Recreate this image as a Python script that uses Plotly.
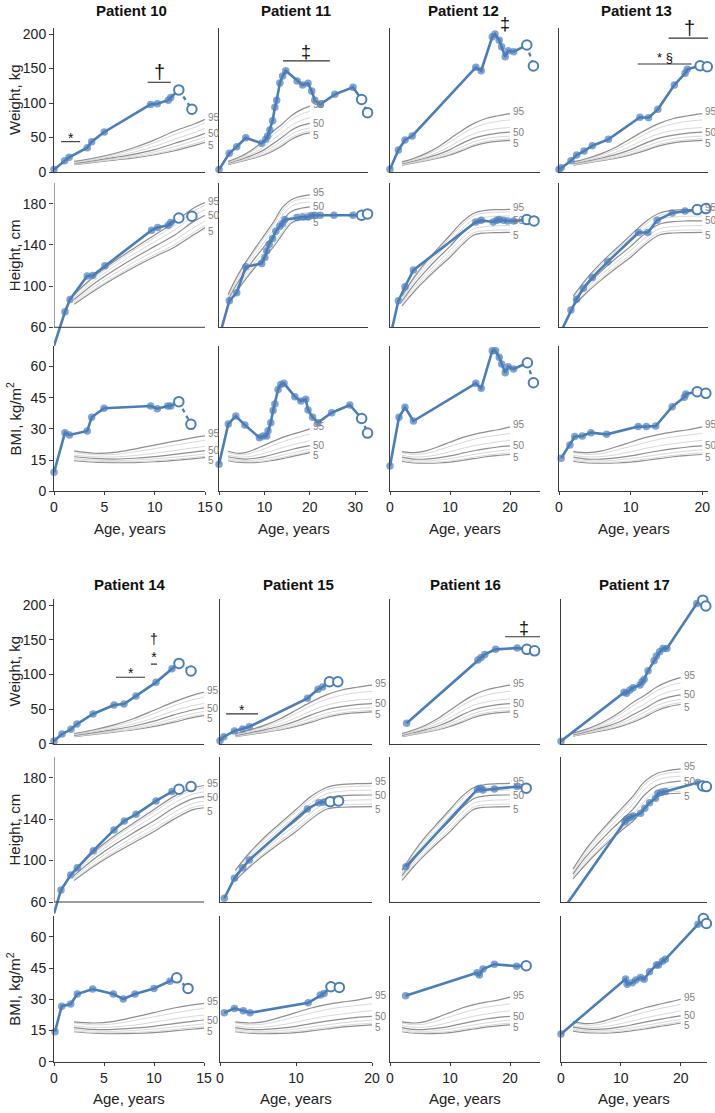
import plotly.graph_objects as go
import numpy as np

BLUE = '#4a7ebb'
AXIS = '#3c3c3c'
FONT = 'Liberation Sans, Arial, Helvetica, sans-serif'
FIG_W, FIG_H = 715, 1113

# reference percentiles (CDC growth charts), ages 2-20 years
REF_AGE = [2, 4, 6, 8, 10, 12, 14, 16, 18, 20]
PCT = [5, 10, 25, 50, 75, 90, 95]
LABELLED = [5, 50, 95]

BOY_WT = [
    [10.6, 13.9, 17.3, 20.6, 25.0, 30.8, 38.5, 47.5, 53.5, 56.6],
    [11.0, 14.5, 18.1, 21.7, 26.5, 33.0, 41.2, 50.3, 56.2, 59.3],
    [11.8, 15.4, 19.5, 23.6, 29.2, 36.8, 45.7, 55.0, 60.8, 63.9],
    [12.7, 16.6, 21.1, 26.0, 32.4, 41.6, 50.8, 60.9, 67.2, 70.6],
    [13.6, 17.8, 23.0, 29.0, 37.0, 47.5, 57.5, 68.0, 74.8, 78.5],
    [14.7, 19.2, 25.2, 32.7, 42.6, 54.5, 65.0, 76.3, 83.5, 88.0],
    [15.3, 20.3, 26.8, 35.5, 46.5, 59.5, 70.0, 82.0, 90.0, 95.5],
]
GIRL_WT = [
    [10.0, 13.3, 16.5, 20.0, 24.8, 31.0, 37.8, 42.3, 44.5, 45.8],
    [10.4, 13.8, 17.2, 21.0, 26.3, 33.0, 40.0, 44.5, 46.8, 48.0],
    [11.1, 14.8, 18.6, 22.8, 29.0, 36.5, 43.8, 48.5, 50.8, 52.0],
    [12.0, 16.0, 20.3, 25.5, 32.5, 41.5, 49.0, 53.5, 56.3, 57.8],
    [12.9, 17.3, 22.4, 28.8, 37.2, 47.5, 55.5, 60.3, 63.0, 64.5],
    [13.9, 18.9, 25.0, 33.0, 43.5, 55.0, 64.0, 70.0, 73.5, 75.5],
    [14.6, 20.0, 27.0, 36.3, 48.2, 60.3, 70.5, 77.5, 81.5, 84.5],
]
BOY_HT = [
    [82.4, 95.5, 107.5, 118.5, 128.5, 138.0, 150.5, 161.5, 164.5, 165.0],
    [83.5, 97.0, 109.0, 120.5, 130.5, 140.3, 153.0, 163.5, 166.5, 167.0],
    [85.0, 99.5, 112.0, 123.5, 134.0, 144.5, 157.5, 167.5, 170.5, 171.5],
    [86.9, 102.5, 115.5, 127.5, 138.5, 149.5, 163.5, 172.5, 175.5, 176.8],
    [88.8, 105.5, 119.0, 131.5, 143.0, 154.5, 169.0, 177.5, 180.5, 181.5],
    [90.7, 108.0, 122.0, 135.0, 147.0, 159.0, 173.5, 181.5, 184.5, 185.5],
    [91.9, 109.5, 124.0, 137.0, 149.5, 162.0, 176.5, 184.0, 187.0, 188.5],
]
GIRL_HT = [
    [80.8, 94.5, 106.5, 117.5, 128.0, 140.0, 149.5, 151.5, 151.8, 152.0],
    [82.0, 96.0, 108.5, 119.8, 130.5, 142.5, 151.8, 153.8, 154.3, 154.5],
    [83.8, 98.7, 111.5, 123.3, 134.5, 146.5, 155.6, 157.8, 158.5, 158.7],
    [85.5, 101.5, 115.0, 127.2, 138.5, 151.0, 160.0, 162.5, 163.2, 163.3],
    [87.5, 104.5, 118.5, 131.0, 143.0, 155.5, 164.5, 167.0, 167.8, 168.0],
    [89.3, 107.0, 121.5, 134.5, 147.0, 159.5, 168.3, 171.0, 171.7, 172.0],
    [90.5, 108.5, 123.5, 136.5, 149.3, 162.0, 170.6, 173.5, 174.2, 174.5],
]
BOY_BMI = [
    [14.7, 14.0, 13.8, 13.8, 14.2, 14.9, 15.7, 16.7, 17.6, 18.6],
    [15.1, 14.4, 14.2, 14.2, 14.7, 15.4, 16.3, 17.3, 18.2, 19.2],
    [15.8, 15.0, 14.8, 15.0, 15.6, 16.4, 17.4, 18.4, 19.4, 20.3],
    [16.6, 15.8, 15.5, 15.9, 16.7, 17.8, 19.0, 20.1, 21.1, 22.0],
    [17.4, 16.6, 16.5, 17.2, 18.3, 19.6, 21.0, 22.2, 23.3, 24.4],
    [18.6, 17.6, 17.7, 19.0, 20.5, 22.2, 23.8, 25.2, 26.4, 27.6],
    [19.4, 18.3, 18.7, 20.3, 22.2, 24.1, 25.9, 27.3, 28.6, 30.0],
]
GIRL_BMI = [
    [14.4, 13.7, 13.5, 13.6, 14.0, 14.8, 15.7, 16.6, 17.2, 17.7],
    [14.8, 14.0, 13.9, 14.1, 14.6, 15.5, 16.4, 17.3, 18.0, 18.5],
    [15.5, 14.7, 14.6, 15.0, 15.7, 16.7, 17.7, 18.6, 19.4, 20.0],
    [16.4, 15.5, 15.5, 16.1, 17.0, 18.3, 19.5, 20.5, 21.3, 21.8],
    [17.3, 16.5, 16.7, 17.6, 19.0, 20.6, 21.9, 22.9, 23.8, 24.5],
    [18.6, 17.7, 18.2, 19.8, 21.6, 23.4, 25.0, 26.2, 27.0, 27.8],
    [19.1, 18.6, 19.4, 21.4, 23.6, 25.8, 27.4, 28.6, 29.6, 31.0],
]

PATIENTS = [10, 11, 12, 13, 14, 15, 16, 17]
SEX = ['M', 'M', 'F', 'F', 'F', 'F', 'F', 'M']
AGE_MAX = [15, 32.8, 25, 20.8, 15, 20, 25, 24.4]
AGE_TICKS = [[0, 5, 10, 15], [0, 10, 20, 30], [0, 10, 20], [0, 10, 20],
             [0, 5, 10, 15], [0, 10, 20], [0, 10, 20], [0, 10, 20]]
ROW_TITLES = ['Weight, kg', 'Height, cm', 'BMI, kg/m<sup>2</sup>']
ROW_TICKS = [[0, 50, 100, 150, 200], [60, 100, 140, 180], [0, 15, 30, 45, 60]]

# patient measurements (last points of each series are the open markers)
P10_WT_AGE = [0, 1.06, 1.5, 3.3, 3.74, 5.0, 9.6, 10.26, 11.35, 11.6, 12.4, 13.7]
P10_WT = [3.5, 16.4, 21.3, 35.2, 44, 58, 98, 99, 104, 108, 119, 91]
P10_HT_AGE = [0, 1.09, 1.59, 3.3, 3.84, 5.06, 9.7, 10.3, 11.35, 11.6, 12.4, 13.7]
P10_HT = [42, 75, 87, 109.7, 110.3, 119.6, 154.2, 156.8, 159, 161.6, 166, 167.7]
P10_BMI_AGE = [0, 1.09, 1.53, 3.3, 3.74, 4.97, 9.6, 10.26, 11.3, 11.6, 12.4, 13.6]
P10_BMI = [9.1, 28.2, 27.1, 29.0, 35.6, 39.9, 41, 39.7, 41, 41, 43.1, 32.2]

P11_WT_AGE = [0, 2.27, 3.9, 5.9, 9.4, 10.3, 10.7, 11.2, 11.8, 12.3, 12.7, 13.4, 14.0, 14.7,
              17.2, 18.4, 19.6, 20.4, 21.1, 22.3, 25.5, 29.5, 31.4, 32.7]
P11_WT = [3.5, 27, 36.7, 49.7, 41.5, 47.3, 52, 60.9, 74.4, 93.7, 104, 129, 139, 146.8,
          131.9, 126, 128.5, 117.4, 104, 98, 112.6, 122.7, 105, 86]
P11_HT_AGE = [0, 2.27, 3.9, 5.9, 9.4, 10.1, 10.5, 11.05, 11.8, 12.5, 13.4, 14.0, 14.5, 17.2,
              18.5, 19.6, 20.4, 21.1, 22.3, 25.3, 29.5, 31.4, 32.7]
P11_HT = [50, 85.7, 93.5, 118.7, 122, 127.8, 134.2, 140.6, 146.2, 153.2, 158, 160.7, 164.5, 166.5,
          167, 167, 168.4, 168.7, 168.7, 168.7, 168.7, 168.7, 170]
P11_BMI_AGE = [0, 2.05, 3.7, 5.7, 8.9, 9.7, 10.5, 10.8, 11.4, 11.9, 12.3, 13.0, 13.6, 14.3,
               16.7, 18.0, 19.1, 19.6, 20.6, 21.8, 24.8, 28.8, 31.4, 32.7]
P11_BMI = [13, 32.4, 36.2, 31.9, 25.8, 26.6, 26.6, 29.1, 33, 38.8, 42, 49, 51.4, 51.9,
           45.5, 43.4, 44.2, 39.1, 35.6, 33, 37.8, 41.5, 35, 28]

P12_WT_AGE = [0, 1.4, 2.5, 3.7, 14.3, 15.2, 17.05, 17.5, 18.2, 18.6, 19.2, 19.7, 20.6, 22.8, 23.9]
P12_WT = [4, 31.9, 46.4, 52.2, 151.7, 146.8, 196, 200, 191, 181.6, 167, 175.8, 174.4, 184, 153.6]
P12_HT_AGE = [0, 1.4, 2.5, 3.9, 14.3, 15.2, 17.2, 17.8, 18.2, 18.9, 19.6, 20.6, 22.8, 24]
P12_HT = [50, 85.7, 99.3, 115.5, 162.2, 163.9, 162.2, 163.9, 164.6, 163.9, 163.2, 163.2, 164.5, 163.2]
P12_BMI_AGE = [0, 1.5, 2.5, 3.9, 14.3, 15.2, 17.05, 17.6, 18.2, 18.6, 19.2, 19.7, 20.6, 22.9, 23.9]
P12_BMI = [12.2, 35.6, 40.4, 33.8, 51.9, 49.5, 67.6, 67.6, 64.4, 61.2, 57, 59.9, 58.8, 61.8, 52.2]

P13_WT_AGE = [0, 0.3, 1.67, 2.46, 3.5, 4.65, 6.9, 11.3, 12.5, 13.8, 16.1, 17.6, 17.9, 19.7, 20.7]
P13_WT = [3.5, 6, 16.4, 24.6, 30.4, 38.1, 47.3, 79.3, 78.7, 90.8, 126, 143, 148.8, 154, 152.6]
P13_HT_AGE = [0, 1.67, 2.46, 3.4, 4.65, 6.8, 11.1, 12.4, 13.7, 15.8, 17.6, 19.3, 20.5]
P13_HT = [52, 76.7, 87.1, 97.8, 108.4, 123.5, 152, 152, 163.9, 171, 172.9, 174.2, 175.2]
P13_BMI_AGE = [0.3, 1.53, 2.2, 3.25, 4.46, 6.65, 11.06, 12.2, 13.5, 15.8, 17.5, 17.7, 19.3, 20.5]
P13_BMI = [15.9, 22.3, 26.3, 26.6, 28.2, 27.4, 31.1, 31.1, 31.4, 40.7, 45.2, 46.8, 47.9, 47.1]

P14_WT_AGE = [0, 0.8, 1.7, 2.3, 3.9, 6.0, 7.0, 8.2, 10.2, 11.8, 12.5, 13.7]
P14_WT = [3.8, 13.9, 20.7, 28.3, 42.8, 55.8, 57.2, 68.8, 88.6, 108.3, 116, 105]
P14_HT_AGE = [0, 0.7, 1.67, 2.33, 3.93, 6.0, 7.03, 8.2, 10.2, 11.8, 12.5, 13.7]
P14_HT = [49, 71.6, 86, 93.1, 109.6, 129.6, 138.3, 144.7, 157.6, 166.6, 168.9, 171.4]
P14_BMI_AGE = [0.1, 0.77, 1.67, 2.33, 3.87, 5.93, 6.93, 8.1, 10.0, 11.6, 12.27, 13.4]
P14_BMI = [14.4, 26.7, 27.7, 32.5, 34.9, 32.5, 30.1, 32.5, 35.2, 38.7, 40.3, 35.2]

P15_WT_AGE = [0, 0.5, 1.9, 2.98, 3.86, 11.5, 12.9, 13.5, 14.4, 15.5]
P15_WT = [4, 10, 18.2, 21.1, 24.4, 65.5, 78.5, 81.8, 89.5, 89.5]
P15_HT_AGE = [0.57, 1.9, 2.99, 3.86, 11.5, 13.0, 13.6, 14.5, 15.6]
P15_HT = [63.6, 82.9, 93.1, 100.6, 149.9, 155.9, 156.3, 156.9, 157.6]
P15_BMI_AGE = [0.57, 1.9, 3.07, 3.95, 11.6, 13.2, 13.7, 14.6, 15.7]
P15_BMI = [23.5, 25.6, 24.5, 23.5, 28.3, 32.0, 32.8, 36, 35.7]

P16_WT_AGE = [2.77, 14.65, 15.2, 15.8, 17.6, 21.2, 22.8, 24.1]
P16_WT = [29.3, 120.8, 124.7, 129, 136.3, 138.2, 136.3, 134.2]
P16_HT_AGE = [2.65, 14.6, 15.1, 15.5, 17.4, 21.2, 22.7]
P16_HT = [94.1, 168.9, 169.9, 168.2, 169.2, 171.4, 169.9]
P16_BMI_AGE = [2.6, 14.5, 14.9, 15.5, 17.4, 21.1, 22.7]
P16_BMI = [31.7, 42.7, 41.6, 44.5, 46.8, 45.9, 46.1]

P17_WT_AGE = [0, 10.55, 10.95, 11.5, 12.05, 13.2, 13.55, 13.9, 14.55, 15.55, 15.95, 16.5,
              17.05, 17.7, 22.7, 23.7, 24.2]
P17_WT = [3.5, 74.1, 72.7, 77.5, 80.8, 84.7, 89.5, 92.9, 105.3, 119.8, 126.6, 132.8,
          137.7, 137.7, 202.7, 207.5, 199]
P17_HT_AGE = [0, 10.67, 10.95, 11.5, 12.05, 13.3, 14.0, 14.8, 15.8, 16.2, 16.8, 17.45, 22.9, 23.7, 24.3]
P17_HT = [50, 137.6, 139.9, 141.5, 143.1, 145.7, 150.5, 155.9, 160.2, 165, 166, 166.6, 175.3, 172.1, 171.4]
P17_BMI_AGE = [0, 10.8, 11.05, 11.9, 12.5, 13.3, 13.9, 14.8, 15.95, 16.3, 16.95, 17.45, 22.9, 23.8, 24.3]
P17_BMI = [13.3, 39.7, 37.2, 37.9, 39.2, 40.5, 39.6, 43.2, 46.4, 46.4, 48.3, 49.2, 66, 68.8, 66.4]

SERIES = {
    10: [(P10_WT_AGE, P10_WT), (P10_HT_AGE, P10_HT), (P10_BMI_AGE, P10_BMI)],
    11: [(P11_WT_AGE, P11_WT), (P11_HT_AGE, P11_HT), (P11_BMI_AGE, P11_BMI)],
    12: [(P12_WT_AGE, P12_WT), (P12_HT_AGE, P12_HT), (P12_BMI_AGE, P12_BMI)],
    13: [(P13_WT_AGE, P13_WT), (P13_HT_AGE, P13_HT), (P13_BMI_AGE, P13_BMI)],
    14: [(P14_WT_AGE, P14_WT), (P14_HT_AGE, P14_HT), (P14_BMI_AGE, P14_BMI)],
    15: [(P15_WT_AGE, P15_WT), (P15_HT_AGE, P15_HT), (P15_BMI_AGE, P15_BMI)],
    16: [(P16_WT_AGE, P16_WT), (P16_HT_AGE, P16_HT), (P16_BMI_AGE, P16_BMI)],
    17: [(P17_WT_AGE, P17_WT), (P17_HT_AGE, P17_HT), (P17_BMI_AGE, P17_BMI)],
}
# number of trailing open markers (weight, height, BMI)
N_OPEN = {10: (2, 2, 2), 11: (2, 2, 2), 12: (2, 2, 2), 13: (2, 2, 2),
          14: (2, 2, 2), 15: (2, 2, 2), 16: (2, 1, 1), 17: (2, 2, 2)}

# event marks on weight panels: patient, symbol, age from, age to, weight level
MARKS = [
    (10, '*', 0.7, 2.6, 44),
    (10, '†', 9.3, 11.6, 130),
    (11, '‡', 14.1, 24.4, 161),
    (12, '‡', None, 19.1, 201),
    (13, '†', 15.3, 21.1, 194),
    (13, '* §', 11.0, 18.5, 156.5),
    (14, '*', 6.2, 9.1, 96),
    (14, '†<br>*', 9.7, 10.3, 115),
    (15, '*', 0.8, 5.0, 43),
    (16, '‡', 19.2, 25.3, 154.5),
]
MARK_FONT = {'*': 14, '†': 20, '‡': 18, '* §': 13, '†<br>*': 14}
LABEL_SHIFT = {95: 2, 50: 0, 5: -3}

# ---- geometry (pixels of the 715 x 1113 page) ----
X_PX = [[(54, 205), (219, 368), (390, 540), (559, 708)],
        [(54, 204), (220, 372), (390, 540), (561, 707)]]
TITLE_PX = [[(131, 10), (296, 10), (463, 10), (636, 10)],
            [(130, 585), (298, 585), (465, 585), (634, 585)]]
ROW_PX = [[(28, 172), (183, 327.3), (345.7, 491.3)],
          [(599.3, 743.6), (757, 902), (916, 1061.7)]]
Y_RANGE = [[0, 208.7], [60, 200], [0, 70]]
HT_LOW = 40  # first column height panels let the line run below the axis


def px_x(p):
    return p / FIG_W


def px_y(p):
    return 1 - p / FIG_H


fig = go.Figure()
layout = {}
shapes = []
annotations = []

for k, pid in enumerate(PATIENTS):
    blk, col = divmod(k, 4)
    ref = {'M': (BOY_WT, BOY_HT, BOY_BMI), 'F': (GIRL_WT, GIRL_HT, GIRL_BMI)}[SEX[k]]
    x0px, x1px = X_PX[blk][col]
    for row in range(3):
        idx = blk * 12 + row * 4 + col + 1
        xa, ya = f'x{idx}', f'y{idx}'
        top, bot = ROW_PX[blk][row]
        yr = list(Y_RANGE[row])
        extended = (row == 1 and col == 0)
        if extended:
            bot = bot + (bot - top) * (yr[0] - HT_LOW) / (yr[1] - yr[0])
            yr[0] = HT_LOW

        layout[f'xaxis{idx}'] = dict(
            domain=[px_x(x0px), px_x(x1px)], anchor=ya, range=[0, AGE_MAX[k]], automargin=False,
            showgrid=False, zeroline=False, showline=not extended, linecolor=AXIS, linewidth=1,
            tickvals=AGE_TICKS[k] if row == 2 else [], ticks='outside' if row == 2 else '',
            ticklen=3, tickcolor=AXIS, showticklabels=(row == 2),
            tickfont=dict(size=14, color='#222', family=FONT))
        layout[f'yaxis{idx}'] = dict(
            domain=[px_y(bot), px_y(top)], anchor=xa, range=yr, automargin=False,
            showgrid=False, zeroline=False, showline=not extended, linecolor=AXIS, linewidth=1,
            tickvals=ROW_TICKS[row] if col == 0 else [], ticks='outside' if col == 0 else '',
            ticklen=4, tickcolor=AXIS, showticklabels=(col == 0),
            tickfont=dict(size=14, color='#222', family=FONT))
        if extended:
            shapes.append(dict(type='line', xref=xa, yref=ya, x0=0, x1=0, y0=60, y1=200,
                               line=dict(color=AXIS, width=1)))
            shapes.append(dict(type='line', xref=xa, yref=ya, x0=0, x1=AGE_MAX[k], y0=60, y1=60,
                               line=dict(color=AXIS, width=1)))

        # reference percentile curves
        table = ref[row]
        for p, vals in zip(PCT, table):
            lab = p in LABELLED
            fig.add_trace(go.Scatter(
                x=REF_AGE, y=vals, xaxis=xa, yaxis=ya, mode='lines', line_shape='spline',
                line=dict(color='#8e8e8e' if lab else '#d9d9d9', width=1.2 if lab else 1),
                hoverinfo='skip', showlegend=False))
            if lab:
                xe = min(20, AGE_MAX[k])
                annotations.append(dict(
                    x=xe, y=float(np.interp(xe, REF_AGE, vals)), xref=xa, yref=ya,
                    text=str(p), showarrow=False, xanchor='left', yanchor='middle', xshift=1,
                    yshift=LABEL_SHIFT[p],
                    font=dict(size=10, color='#7f7f7f', family=FONT)))

        # patient series
        ages, vals = SERIES[pid][row]
        n_open = N_OPEN[pid][row]
        n = len(ages)
        cut = n - n_open
        low = 60 if row == 1 else -1
        fig.add_trace(go.Scatter(
            x=ages[:cut + 1], y=vals[:cut + 1], xaxis=xa, yaxis=ya, mode='lines',
            line=dict(color=BLUE, width=2.6), hoverinfo='skip', showlegend=False))
        if n_open >= 2:
            fig.add_trace(go.Scatter(
                x=ages[cut:], y=vals[cut:], xaxis=xa, yaxis=ya, mode='lines',
                line=dict(color=BLUE, width=2.4, dash='4px,4px'), hoverinfo='skip', showlegend=False))
        fig.add_trace(go.Scatter(
            x=ages[:cut], y=vals[:cut], xaxis=xa, yaxis=ya, mode='markers', cliponaxis=False,
            marker=dict(color=BLUE, size=[0 if v < low else 7.5 for v in vals[:cut]],
                        line=dict(width=0)),
            hoverinfo='skip', showlegend=False))
        fig.add_trace(go.Scatter(
            x=ages[cut:], y=vals[cut:], xaxis=xa, yaxis=ya, mode='markers', cliponaxis=False,
            marker=dict(color='white', size=9.5, line=dict(color=BLUE, width=2)),
            hoverinfo='skip', showlegend=False))

        if col == 0:
            annotations.append(dict(
                x=px_x(14), y=px_y((ROW_PX[blk][row][0] + ROW_PX[blk][row][1]) / 2),
                xref='paper', yref='paper', text=ROW_TITLES[row], textangle=-90,
                xanchor='center', yanchor='middle',
                showarrow=False, font=dict(size=15, color='#222', family=FONT)))
        if row == 2:
            annotations.append(dict(
                x=px_x((x0px + x1px) / 2), y=px_y(ROW_PX[blk][2][1] + 37),
                xref='paper', yref='paper', text='Age, years', showarrow=False,
                xanchor='center', yanchor='middle',
                font=dict(size=15, color='#222', family=FONT)))

    tx, ty = TITLE_PX[blk][col]
    annotations.append(dict(
        x=px_x(tx), y=px_y(ty), xref='paper', yref='paper',
        text=f'<b>Patient {pid}</b>', showarrow=False, xanchor='center', yanchor='middle',
        font=dict(size=15, color='#111', family=FONT)))

# event marks
for pid, sym, a0, a1, lev in MARKS:
    k = PATIENTS.index(pid)
    blk, col = divmod(k, 4)
    idx = blk * 12 + col + 1
    xa, ya = f'x{idx}', f'y{idx}'
    if a0 is not None:
        shapes.append(dict(type='line', xref=xa, yref=ya, x0=a0, x1=a1, y0=lev, y1=lev,
                           line=dict(color='#333', width=1.1)))
        xc = (a0 + a1) / 2
    else:
        xc = a1
    annotations.append(dict(
        x=xc, y=lev, xref=xa, yref=ya, text=sym, showarrow=False, xanchor='center',
        yanchor='bottom', yshift=-6 if sym == '*' else -3,
        font=dict(size=MARK_FONT[sym], color='#111', family=FONT)))

layout.update(
    width=FIG_W, height=FIG_H, margin=dict(l=0, r=0, t=0, b=0, autoexpand=False),
    paper_bgcolor='white', plot_bgcolor='rgba(0,0,0,0)', showlegend=False,
    font=dict(family=FONT, color='#222'), shapes=shapes, annotations=annotations)
fig.update_layout(**layout)

# page body default margin would shift the 715 x 1113 figure; remove it
fig.write_html("out.html", config={'displayModeBar': False},
               post_script="document.body.style.margin='0';")
